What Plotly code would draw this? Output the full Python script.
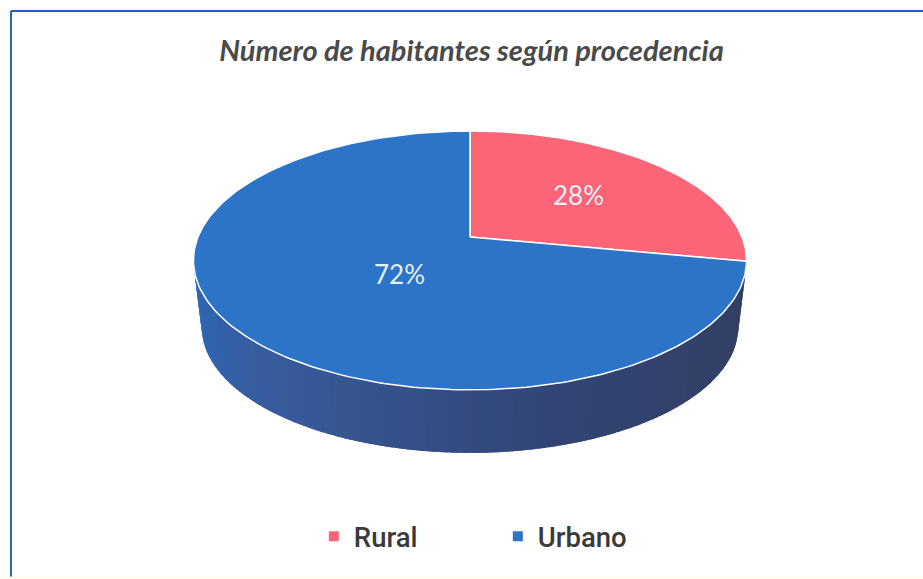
import numpy as np
import plotly.graph_objects as go

categories = ["Rural", "Urbano"]
shares = [28, 72]
colors = ["#FC6478", "#2B74C8"]
title_text = "Número de habitantes según procedencia"

W, H = 923, 579
APEX_X, APEX_Y = 470, 237     # pie centre on screen
RX, SY, P = 272, 125.2, 0.181  # perspective of the tilted disc
DEPTH = 67.6
LOWER_SCALE = 0.97            # the underside of the disc is further from the viewer


def project(theta):
    """theta clockwise from 12 o'clock -> screen position on the disc rim."""
    w = 1 + P * np.cos(theta)
    return APEX_X + RX * np.sin(theta) / w, APEX_Y - SY * np.cos(theta) / w


def project_lower(theta):
    x, y = project(theta)
    return APEX_X + (x - APEX_X) * LOWER_SCALE, APEX_Y + (y - APEX_Y) * LOWER_SCALE + DEPTH


WALL_STOPS = [(0.0, (52, 62, 96)), (0.4, (50, 68, 116)), (0.75, (56, 92, 158)), (1.0, (44, 104, 182))]


def wall_color(t):
    for (t0, c0), (t1, c1) in zip(WALL_STOPS, WALL_STOPS[1:]):
        if t <= t1:
            f = (t - t0) / (t1 - t0)
            return "rgb(%d,%d,%d)" % tuple(round(c0[i] + (c1[i] - c0[i]) * f) for i in range(3))
    return "rgb(%d,%d,%d)" % WALL_STOPS[-1][1]


fig = go.Figure()

# side wall: front half of the disc rim, extruded downward
t_left, t_right = 2 * np.pi - 1.76, 1.76
tot = sum(shares)
wall_angles = np.linspace(t_right, t_left, 81)
for i in range(80):
    end_a = min(wall_angles[i + 1] + 0.03, t_left)
    th = np.linspace(wall_angles[i], end_a, 8)
    x, y = project(th)
    xl, yl = project_lower(th)
    c = wall_color(i / 79)
    fig.add_trace(go.Scatter(
        x=np.r_[x, xl[::-1]], y=np.r_[y, yl[::-1]],
        mode="lines", fill="toself", line=dict(width=0, color=c),
        fillcolor=c, showlegend=False, hoverinfo="skip"))

# top sectors, computed from the shares
start = 0.0
for cat, val, col in zip(categories, shares, colors):
    end = start + 2 * np.pi * val / tot
    th = np.linspace(start, end, 240)
    x, y = project(th)
    fig.add_trace(go.Scatter(
        x=np.r_[APEX_X, x, APEX_X], y=np.r_[APEX_Y, y, APEX_Y],
        mode="lines", fill="toself", fillcolor=col,
        line=dict(color="white", width=1.5), showlegend=False, hoverinfo="skip"))
    start = end

# data labels
label_pos = [(578, 195), (399, 274)]
for val, (lx, ly) in zip(shares, label_pos):
    fig.add_annotation(x=lx, y=ly, text=f"{val}%", showarrow=False,
                       font=dict(family="Lato, sans-serif", size=26, color="#E8F0F8"))

# legend entries as real marker traces
for cat, col in zip(categories, colors):
    fig.add_trace(go.Scatter(x=[None], y=[None], mode="markers", name=cat,
                             marker=dict(symbol="square", size=10, color=col)))

# frame: only top and left edges are visible in the scan
fig.add_shape(type="line", x0=11, y0=11, x1=W, y1=11, line=dict(color="#2A5FB8", width=2), layer="below")
fig.add_shape(type="line", x0=11, y0=11, x1=11, y1=H, line=dict(color="#2A66B0", width=2), layer="below")
fig.add_shape(type="rect", x0=0, y0=576.5, x1=W, y1=H, line=dict(width=0),
              fillcolor="#FEFDEF", layer="below")

fig.update_layout(
    width=W, height=H, margin=dict(l=0, r=0, t=0, b=0),
    paper_bgcolor="white", plot_bgcolor="white",
    xaxis=dict(range=[0, W], visible=False, fixedrange=True),
    yaxis=dict(range=[H, 0], visible=False, fixedrange=True),
    title=dict(text=f"<b><i>{title_text}</i></b>", x=0.5108, xanchor="center", xref="paper", y=0.9125, yanchor="middle",
               font=dict(family="Lato, sans-serif", size=29, color="#4A4A4A")),
    legend=dict(orientation="h", x=0.34, xanchor="left", y=0.0735, yanchor="middle",
                font=dict(family="Roboto, sans-serif", size=27.5, color="#3A3A3A", weight=500),
                itemwidth=30, entrywidth=139, entrywidthmode="pixels"),
)
fig.write_html("out.html", config=dict(displayModeBar=False),
               post_script="document.body.style.margin='0';document.body.style.overflow='hidden';")
